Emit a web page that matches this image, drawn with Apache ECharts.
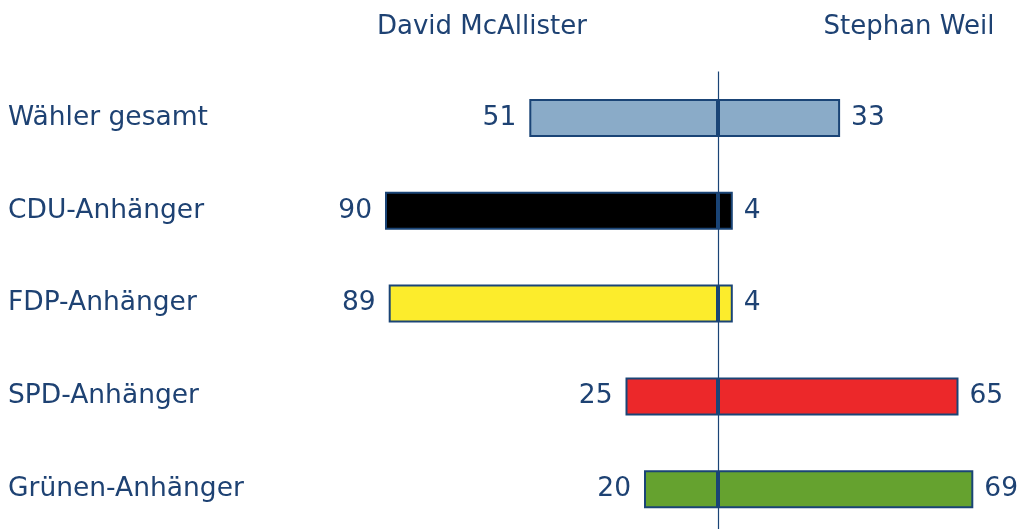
<!DOCTYPE html>
<html>
<head>
<meta charset="utf-8">
<script src="https://cdn.jsdelivr.net/npm/echarts@6/dist/echarts.min.js"></script>
<style>
    html, body { margin: 0; padding: 0; background: #fff; }
    #main { width: 1019px; height: 529px; }
</style>
</head>
<body>
<div id="main"></div>
<script>
    // Daten
    var categories = ['Wähler gesamt', 'CDU-Anhänger', 'FDP-Anhänger', 'SPD-Anhänger', 'Grünen-Anhänger'];
    var mcAllister = [51, 90, 89, 25, 20];
    var weil = [33, 4, 4, 65, 69];
    var barColors = ['#8aabc8', '#000000', '#fcec2c', '#ec282a', '#65a22f'];

    var textColor = '#1e4273';
    var borderColor = '#1a4476';
    var font = '"DejaVu Sans", Verdana, sans-serif';
    var fontSize = 26.5;

    function makeData(values, sign) {
        var list = [];
        for (let i = 0; i < values.length; i++) {
            list.push({
                value: sign * values[i],
                itemStyle: { color: barColors[i] }
            });
        }
        return list;
    }

    let chartDom = document.getElementById('main');
    let myChart = echarts.init(chartDom);
    let option = {
        animation: false,
        grid: {
            left: 348,
            width: 666,
            top: 71.6,
            height: 464,
            outerBoundsMode: 'none'
        },
        graphic: [
            {
                type: 'text',
                x: 482, y: 27,
                style: {
                    text: 'David McAllister',
                    fill: textColor, font: '26px ' + font,
                    textAlign: 'center', textVerticalAlign: 'middle'
                }
            },
            {
                type: 'text',
                x: 909, y: 27,
                style: {
                    text: 'Stephan Weil',
                    fill: textColor, font: '26px ' + font,
                    textAlign: 'center', textVerticalAlign: 'middle'
                }
            }
        ],
        xAxis: {
            type: 'value',
            min: -100,
            max: 80,
            show: false
        },
        yAxis: {
            type: 'category',
            data: categories,
            inverse: true,
            axisLine: { show: false, onZero: false },
            axisTick: { show: false },
            splitLine: { show: false },
            axisLabel: {
                align: 'left',
                margin: 340,
                color: textColor,
                fontSize: fontSize,
                fontFamily: font
            }
        },
        series: [
            {
                name: 'David McAllister',
                type: 'bar',
                stack: 'a',
                barWidth: 38,
                data: makeData(mcAllister, -1),
                itemStyle: { borderColor: borderColor, borderWidth: 2 },
                label: {
                    show: true,
                    position: 'left',
                    distance: 13,
                    color: textColor,
                    fontSize: fontSize,
                    fontFamily: font,
                    formatter: function (p) { return Math.abs(p.value); }
                },
                markLine: {
                    silent: true,
                    symbol: 'none',
                    label: { show: false },
                    lineStyle: { color: borderColor, width: 1.2, type: 'solid' },
                    data: [{ xAxis: 0 }]
                }
            },
            {
                name: 'Stephan Weil',
                type: 'bar',
                stack: 'a',
                barWidth: 38,
                data: makeData(weil, 1),
                itemStyle: { borderColor: borderColor, borderWidth: 2 },
                label: {
                    show: true,
                    position: 'right',
                    distance: 11,
                    color: textColor,
                    fontSize: fontSize,
                    fontFamily: font
                }
            }
        ]
    };
    option && myChart.setOption(option);
</script>
</body>
</html>
